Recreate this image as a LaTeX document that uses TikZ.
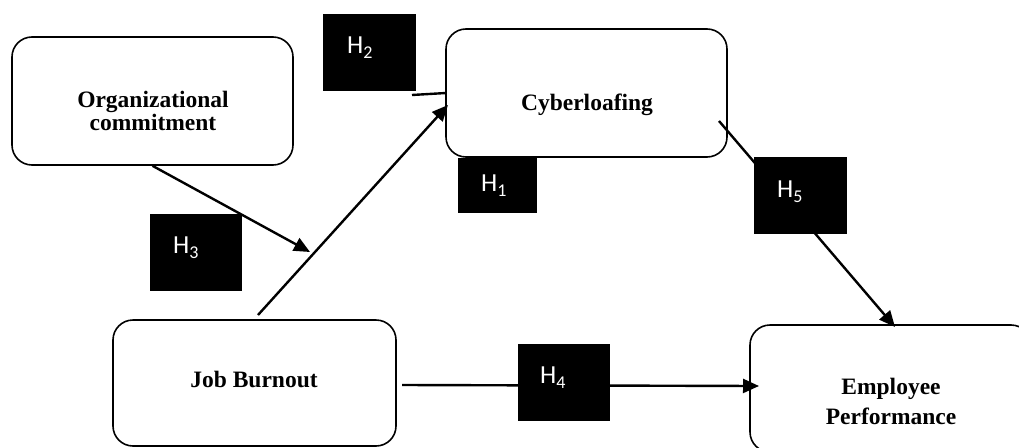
\documentclass[tikz,border=0pt]{standalone}
\usepackage{fontspec}
\setmainfont{Liberation Serif}
\newfontfamily\hfont{Carlito}
\usetikzlibrary{arrows.meta}
% hypothesis label: H with a lowered index
\newcommand{\hyplabel}[1]{H\raisebox{-5.5pt}{\fontsize{18}{18}\selectfont #1}}
\begin{document}
\begin{tikzpicture}[x=1pt,y=-1pt,
  varbox/.style={draw, line width=1.6pt, rounded corners=20pt, fill=white, inner sep=0pt},
  vartext/.style={font=\fontsize{23.5}{24}\selectfont\bfseries, align=center, inner sep=0pt},
  hyp/.style={fill=black, inner sep=0pt},
  hyptext/.style={text=white, font=\hfont\fontsize{26}{26}\selectfont, inner sep=0pt, anchor=base west},
  link/.style={line width=2.4pt, -{Triangle[length=16pt,width=14pt]}},
  plainlink/.style={line width=2.4pt},
]
\useasboundingbox (0,0) rectangle (1019,447);
\clip (0,0) rectangle (1019,447);

% variable boxes
\node[varbox, minimum width=281pt, minimum height=128pt] (org) at (152.5,101) {};
\node[varbox, minimum width=281pt, minimum height=128pt] (cyber) at (586.5,93) {};
\node[varbox, minimum width=283pt, minimum height=126pt] (job) at (254.5,383) {};
\node[varbox, minimum width=281pt, minimum height=127pt] (emp) at (890.5,388.5) {};

% variable names
\node[vartext] (orgT) at (153,111) {Organizational\\[-1pt]commitment};
\node[vartext, anchor=base] (cyberT) at (587,110) {Cyberloafing};
\node[vartext, anchor=base] (jobT) at (254,387) {Job Burnout};
\node[vartext, font=\fontsize{23.5}{30}\selectfont\bfseries] (empT) at (891,401) {Employee\\Performance};

% connector end points
\coordinate (jbStart) at (258,315);
\coordinate (cyIn) at (448,105);
\coordinate (modPt) at (310,252);
\coordinate (hTwoStart) at (412,95);
\coordinate (hTwoEnd) at (446,93);
\coordinate (cyOut) at (719,121);
\coordinate (empTop) at (895,327);
\coordinate (jbOut) at (402,385);
\coordinate (empIn) at (759,386);

% paths
\draw[link] (jbStart) -- (cyIn);
\draw[link] (org.south) -- (modPt);
\draw[plainlink] (hTwoStart) -- (hTwoEnd);
\draw[link] (cyOut) -- (empTop);
\draw[link] (jbOut) -- (empIn);

% hypothesis labels
\node[hyp, minimum width=93pt, minimum height=77pt] (h2) at (369.5,52.5) {};
\node[hyp, minimum width=92pt, minimum height=77pt] (h3) at (196,252.5) {};
\node[hyp, minimum width=79pt, minimum height=55pt] (h1) at (497.5,185.5) {};
\node[hyp, minimum width=93pt, minimum height=77pt] (h5) at (800.5,195.5) {};
\node[hyp, minimum width=92pt, minimum height=77pt] (h4) at (564,382.5) {};

\node[hyptext] (h2T) at (347,53) {\hyplabel{2}};
\node[hyptext] (h3T) at (173,253) {\hyplabel{3}};
\node[hyptext] (h1T) at (481,191) {\hyplabel{1}};
\node[hyptext] (h5T) at (777,197) {\hyplabel{5}};
\node[hyptext] (h4T) at (540,383) {\hyplabel{4}};
\end{tikzpicture}
\end{document}
